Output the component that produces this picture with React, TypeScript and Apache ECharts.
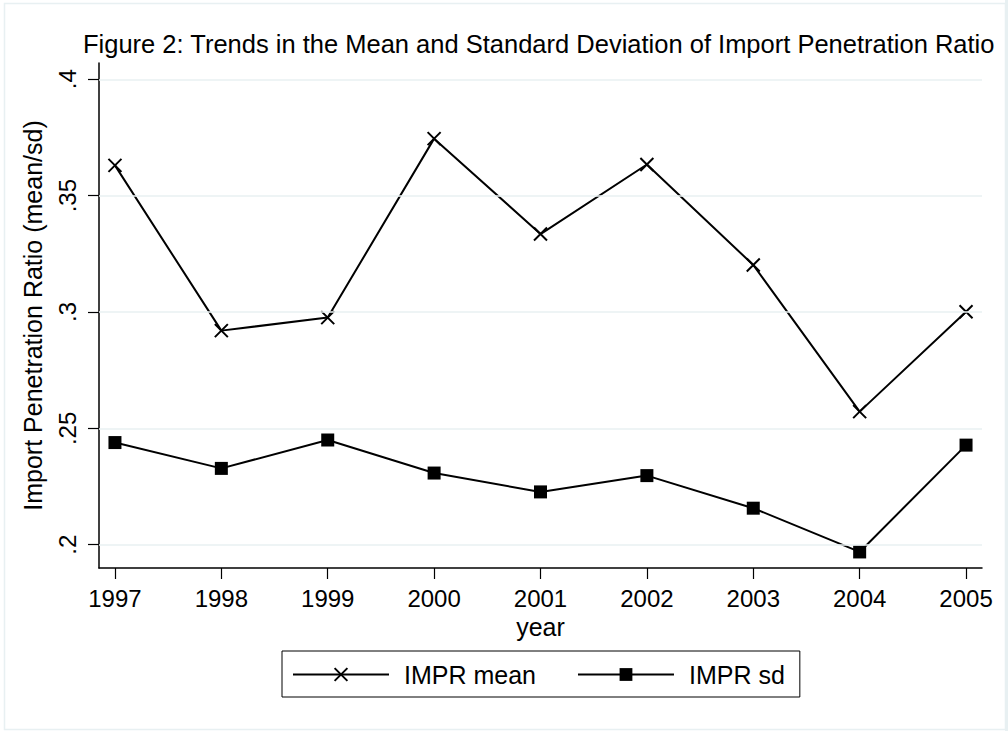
import React, { useEffect, useRef } from "react";
import * as echarts from "echarts";

const years = [1997, 1998, 1999, 2000, 2001, 2002, 2003, 2004, 2005];
const imprMean = [0.363, 0.292, 0.2976, 0.3745, 0.3335, 0.3634, 0.3202, 0.2572, 0.3001];
const imprSd = [0.2439, 0.2328, 0.245, 0.2308, 0.2227, 0.2297, 0.2157, 0.1969, 0.2428];
const yTicks = [0.2, 0.25, 0.3, 0.35, 0.4];
const yTickLabels = [".2", ".25", ".3", ".35", ".4"];
const seriesNames = ["IMPR mean", "IMPR sd"];

const FONT = "'Liberation Sans', Arial, sans-serif";
const GRID_COLOR = "#e8f0f2";

export default function App() {
  const ref = useRef<HTMLDivElement>(null);
  useEffect(() => {
    if (!ref.current) return;
    const chart = echarts.init(ref.current, undefined, { renderer: "svg" });
    const xMark = "path://M0,0L10,10M10,0L0,10";
    chart.setOption({
      animation: false,
      backgroundColor: "#ffffff",
      textStyle: { fontFamily: FONT, color: "#000" },
      title: {
        text: "Figure 2: Trends in the Mean and Standard Deviation of Import Penetration Ratio",
        left: 83,
        top: 31,
        padding: 0,
        textStyle: { fontFamily: FONT, fontSize: 25.5, fontWeight: "normal", color: "#000" },
      },
      graphic: [
        {
          type: "rect",
          shape: { x: 4.5, y: 3.5, width: 1001, height: 726 },
          style: { fill: "none", stroke: GRID_COLOR, lineWidth: 1.5 },
          silent: true,
        },
        {
          type: "rect",
          shape: { x: 1005, y: 0, width: 3, height: 731 },
          style: { fill: GRID_COLOR },
          silent: true,
        },
      ],
      legend: {
        data: seriesNames,
        left: 282,
        top: 651,
        padding: [11, 15, 10, 10],
        borderColor: "#000",
        borderWidth: 1,
        itemWidth: 96,
        itemHeight: 16,
        itemGap: 41,
        textStyle: { fontFamily: FONT, fontSize: 25, color: "#000", padding: [0, 0, 0, 10] },
      },
      grid: { left: 99, right: 26, top: 63, bottom: 163, containLabel: false },
      xAxis: {
        type: "value",
        min: 1996.85,
        max: 2005.15,
        name: "year",
        nameLocation: "middle",
        nameGap: 40,
        nameTextStyle: { fontFamily: FONT, fontSize: 25, color: "#000" },
        axisLine: { show: true, onZero: false, lineStyle: { color: "#000", width: 1.5 } },
        axisTick: { show: true, length: 11, customValues: years, lineStyle: { color: "#000", width: 1.2 } },
        axisLabel: {
          customValues: years,
          margin: 18,
          fontFamily: FONT,
          fontSize: 24,
          color: "#000",
          formatter: (v: number) => String(v),
        },
        splitLine: { show: false },
      },
      yAxis: {
        type: "value",
        min: 0.19,
        max: 0.407,
        name: "Import Penetration Ratio (mean/sd)",
        nameLocation: "middle",
        nameGap: 54,
        nameTextStyle: { fontFamily: FONT, fontSize: 25, color: "#000" },
        axisLine: { show: true, onZero: false, lineStyle: { color: "#000", width: 1.5 } },
        axisTick: { show: true, length: 11, customValues: yTicks, lineStyle: { color: "#000", width: 1.2 } },
        axisLabel: {
          customValues: yTicks,
          rotate: 90,
          margin: 20,
          fontFamily: FONT,
          fontSize: 24,
          color: "#000",
          formatter: (v: number) => {
            const i = yTicks.findIndex((t) => Math.abs(t - v) < 1e-9);
            return i >= 0 ? yTickLabels[i] : "";
          },
        },
        splitLine: { show: false },
      },
      series: [
        {
          name: "grid",
          type: "line",
          data: [],
          z: 1,
          silent: true,
          markLine: {
            silent: true,
            symbol: "none",
            label: { show: false },
            lineStyle: { color: GRID_COLOR, width: 1.5, type: "solid" },
            data: yTicks.map((t) => ({ yAxis: t })),
          },
        },
        {
          name: seriesNames[0],
          type: "line",
          z: 3,
          data: years.map((y, i) => [y, imprMean[i]]),
          symbol: xMark,
          symbolSize: 13,
          showAllSymbol: true,
          lineStyle: { color: "#000", width: 2 },
          itemStyle: { color: "#000", borderColor: "#000", borderWidth: 2 },
        },
        {
          name: seriesNames[1],
          type: "line",
          z: 3,
          data: years.map((y, i) => [y, imprSd[i]]),
          symbol: "rect",
          symbolSize: 13,
          showAllSymbol: true,
          lineStyle: { color: "#000", width: 2 },
          itemStyle: { color: "#000", borderColor: "#000", borderWidth: 0 },
        },
      ],
    });
    return () => chart.dispose();
  }, []);
  return (
    <div
      ref={ref}
      style={{ position: "fixed", left: 0, top: 0, width: 1008, height: 731 }}
    />
  );
}
